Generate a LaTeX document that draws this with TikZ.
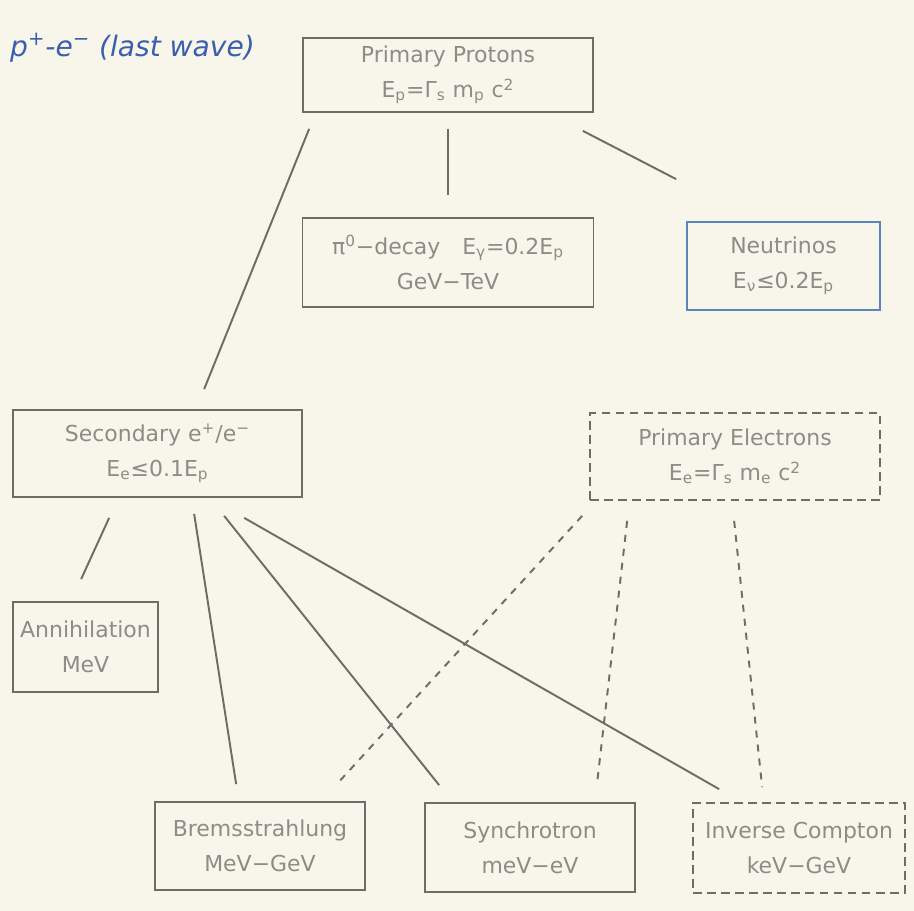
\documentclass[tikz,border=0pt]{standalone}
\usepackage{fontspec}
\setmainfont{DejaVu Sans}
\usetikzlibrary{calc}
\definecolor{paper}{HTML}{F8F6EA}
\definecolor{ink}{HTML}{6C6C68}
\definecolor{txt}{HTML}{8C8C88}
\definecolor{pen}{HTML}{3A5FAE}
\definecolor{nublue}{HTML}{5A84BC}
\begin{document}
\begin{tikzpicture}[x=0.02cm,y=-0.02cm,
    box/.style={draw=ink,line width=1pt,text=txt,align=center,inner sep=0pt,
                font=\fontsize{12.5}{20}\selectfont},
    dbox/.style={box,dash pattern=on 5pt off 3pt},
    link/.style={draw=ink,line width=1.1pt},
    dlink/.style={link,dash pattern=on 4pt off 4pt}]
    \fill[paper] (0,0) rectangle (914,911);
    \node[text=pen,anchor=west,font=\fontsize{16}{18}\selectfont\itshape] (note) at (4,48)
        {p\textsuperscript{+}-e\textsuperscript{−} (last wave)};
    \node[box,minimum width=5.8cm,minimum height=1.48cm] (prot) at (448,75)
        {Primary Protons\\E\textsubscript{p}=Γ\textsubscript{s} m\textsubscript{p} c\textsuperscript{2}};
    \node[box,minimum width=5.82cm,minimum height=1.78cm] (pi) at (448,262.5)
        {π\textsuperscript{0}−decay\quad E\textsubscript{γ}=0.2E\textsubscript{p}\\GeV−TeV};
    \node[box,draw=nublue,minimum width=3.86cm,minimum height=1.76cm] (nu) at (783.5,266)
        {Neutrinos\\E\textsubscript{ν}≤0.2E\textsubscript{p}};
    \node[box,minimum width=5.78cm,minimum height=1.74cm] (sec) at (157.5,453.5)
        {Secondary e\textsuperscript{+}/e\textsuperscript{−}\\E\textsubscript{e}≤0.1E\textsubscript{p}};
    \node[dbox,minimum width=5.8cm,minimum height=1.74cm] (pel) at (735,456.5)
        {Primary Electrons\\E\textsubscript{e}=Γ\textsubscript{s} m\textsubscript{e} c\textsuperscript{2}};
    \node[box,minimum width=2.9cm,minimum height=1.8cm] (ann) at (85.5,647)
        {Annihilation\\MeV};
    \node[box,minimum width=4.2cm,minimum height=1.76cm] (brems) at (260,846)
        {Bremsstrahlung\\MeV−GeV};
    \node[box,minimum width=4.2cm,minimum height=1.78cm] (syn) at (530,847.5)
        {Synchrotron\\meV−eV};
    \node[dbox,minimum width=4.24cm,minimum height=1.8cm] (ic) at (799,848)
        {Inverse Compton\\keV−GeV};
    \draw[link] ($(prot.south west)+(7,16)$) -- ($(sec.north west)+(192,-20)$);
    \draw[link] ($(prot.south)+(0,16)$) -- ($(pi.north)+(0,-22)$);
    \draw[link] ($(prot.south east)+(-11,18)$) -- ($(nu.north west)+(-10,-42)$);
    \draw[link] ($(sec.south west)+(97,20)$) -- ($(ann.north west)+(69,-22)$);
    \draw[link] ($(sec.south west)+(182,16)$) -- ($(brems.north west)+(82,-17)$);
    \draw[link] ($(sec.south west)+(212,18)$) -- ($(syn.north west)+(15,-17)$);
    \draw[link] ($(sec.south west)+(232,20)$) -- ($(ic.north west)+(27,-13)$);
    \draw[dlink] ($(pel.south west)+(-7,15)$) -- ($(brems.north east)+(-29,-17)$);
    \draw[dlink] ($(pel.south west)+(38,20)$) -- ($(syn.north east)+(-39,-17)$);
    \draw[dlink] ($(pel.south west)+(145,20)$) -- ($(ic.north west)+(70,-15)$);
\end{tikzpicture}
\end{document}
